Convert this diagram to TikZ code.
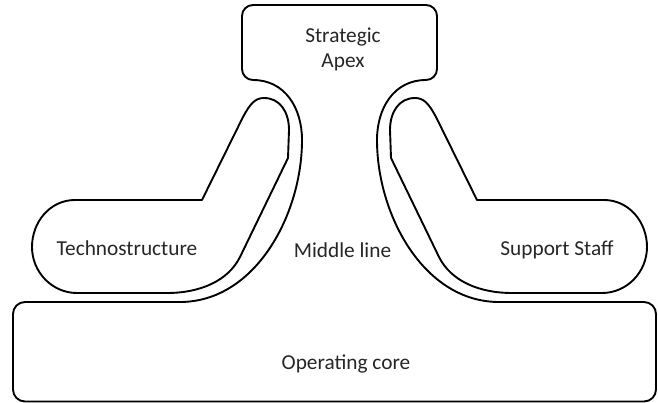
\documentclass[tikz,border=0pt]{standalone}
\usepackage{fontspec}
\setmainfont{Carlito}
\begin{document}
\begin{tikzpicture}[x=1pt,y=-1pt,
  part/.style={draw=black, line width=1.9pt, line join=round},
  lbl/.style={font=\fontsize{21.3}{25}\selectfont, text=black!85, inner sep=0pt, anchor=base, align=center},
  wing/.pic={
    \draw[part] (202,200) -- (243,117)
      .. controls (250,104) and (255,98) .. (264,98)
      .. controls (280,98) and (289,112) .. (289,130)
      -- (288,158) -- (240,257)
      .. controls (228,281) and (200,293) .. (167,293)
      -- (77,293)
      .. controls (52,293) and (32,272) .. (32,247)
      .. controls (32,222) and (50,200) .. (75,200) -- cycle;
  }]
\path[use as bounding box] (0,0) rectangle (658,403);

% operating core, middle line and strategic apex as one outline
\draw[part] (180,302) -- (25,302)
  arc[start angle=90, end angle=180, radius=12pt] -- (13,389.5)
  arc[start angle=180, end angle=270, radius=12pt] -- (644,401.5)
  arc[start angle=270, end angle=360, radius=12pt] -- (656,314)
  arc[start angle=0, end angle=90, radius=12pt] -- (499,302)
  .. controls (424,302) and (377,215) .. (377,140)
  .. controls (377,108) and (394,80) .. (426,80)
  arc[start angle=270, end angle=360, radius=11pt] -- (437,16)
  arc[start angle=0, end angle=90, radius=11pt] -- (253,5)
  arc[start angle=90, end angle=180, radius=11pt] -- (242,69)
  arc[start angle=180, end angle=270, radius=11pt]
  .. controls (285,80) and (302,108) .. (302,140)
  .. controls (302,215) and (255,302) .. (180,302) -- cycle;

% technostructure and its mirror image, the support staff
\pic (techshape) at (0,0) {wing};
\pic[xscale=-1] (staffshape) at (679,0) {wing};

% the base anchor of a two-line label sits on its last line
\node[lbl] (apex) at (343,68) {Strategic\\Apex};
\node[lbl] (tech) at (127,255) {Technostructure};
\node[lbl] (mid) at (342.5,258) {Middle line};
\node[lbl] (staff) at (557,255.5) {Support Staff};
\node[lbl] (core) at (346,369) {Operating core};
\end{tikzpicture}
\end{document}
